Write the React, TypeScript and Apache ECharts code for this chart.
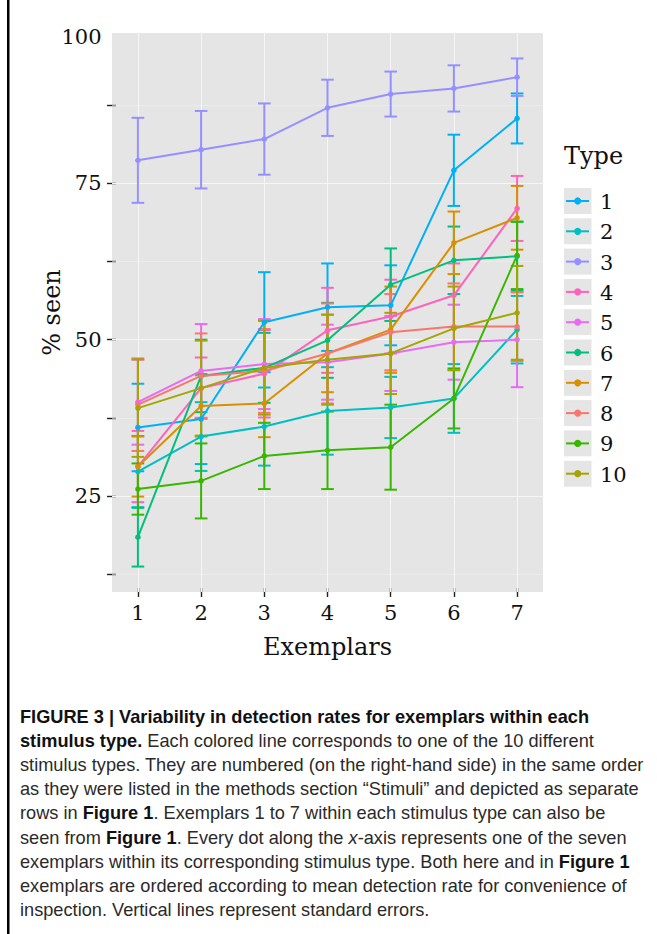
import React, { useEffect, useRef } from "react";
import * as echarts from "echarts";

// ---------- data ----------
const exemplars = [1, 2, 3, 4, 5, 6, 7];
const typeNames = ["1", "2", "3", "4", "5", "6", "7", "8", "9", "10"];
const typeColors = [
  "#00B0F6", "#00BFC4", "#9590FF", "#FF62BC", "#E76BF3",
  "#00BF7D", "#D89000", "#F8766D", "#39B600", "#A3A500",
];

const type1Mean = [35.95, 37.3, 52.8, 55.2, 55.5, 77.1, 85.4];
const type1SE = [7.0, 7.2, 8.0, 7.0, 6.4, 5.7, 4.0];
const type2Mean = [28.9, 34.5, 36.1, 38.6, 39.15, 40.6, 51.6];
const type2SE = [5.7, 5.5, 6.25, 7.0, 4.9, 5.5, 5.4];
const type3Mean = [78.7, 80.4, 82.1, 87.1, 89.3, 90.2, 92.0];
const type3SE = [6.8, 6.2, 5.7, 4.5, 3.6, 3.7, 3.0];
const type4Mean = [29.7, 42.25, 44.55, 51.5, 53.7, 57.1, 71.0];
const type4SE = [5.7, 4.9, 7.0, 6.8, 5.9, 5.1, 5.2];
const type5Mean = [40.0, 45.0, 46.1, 46.4, 47.8, 49.6, 50.0];
const type5SE = [6.8, 7.5, 7.2, 6.0, 6.0, 6.0, 7.6];
const type6Mean = [18.4, 44.2, 45.5, 49.9, 58.8, 62.7, 63.35];
const type6SE = [4.7, 5.8, 5.6, 6.0, 5.8, 5.4, 5.5];
const type7Mean = [29.7, 39.4, 39.8, 47.8, 51.6, 65.5, 69.5];
const type7SE = [4.8, 4.9, 5.4, 6.2, 6.9, 5.0, 5.1];
const type8Mean = [39.6, 44.2, 45.0, 47.8, 51.2, 52.1, 52.1];
const type8SE = [7.4, 6.8, 6.7, 8.0, 6.1, 6.9, 5.5];
const type9Mean = [26.1, 27.4, 31.4, 32.3, 32.8, 40.6, 63.5];
const type9SE = [4.1, 6.0, 5.3, 6.2, 6.8, 4.8, 5.4];
const type10Mean = [39.05, 42.25, 45.5, 46.8, 47.8, 51.8, 54.3];
const type10SE = [7.8, 7.6, 7.5, 7.2, 6.5, 6.7, 7.5];

const allMeans = [type1Mean, type2Mean, type3Mean, type4Mean, type5Mean, type6Mean, type7Mean, type8Mean, type9Mean, type10Mean];
const allSEs = [type1SE, type2SE, type3SE, type4SE, type5SE, type6SE, type7SE, type8SE, type9SE, type10SE];

const xTickValues = [1, 2, 3, 4, 5, 6, 7];
const yTickValues = [12.5, 25, 37.5, 50, 62.5, 75, 87.5];
const yLabelValues = [25, 50, 75];
const yTopLabel = "100";
const yMajorGrid = [25, 50, 75];
const yMinorGrid = [12.5, 37.5, 62.5, 87.5];

const xTitle = "Exemplars";
const yTitle = "% seen";
const legendTitle = "Type";

const captionLines = [
  "{b|FIGURE 3 | Variability in detection rates for exemplars within each}",
  "{b|stimulus type.}{r| Each colored line corresponds to one of the 10 different}",
  "{r|stimulus types. They are numbered (on the right-hand side) in the same order}",
  "{r|as they were listed in the methods section \u201cStimuli\u201d and depicted as separate}",
  "{r|rows in }{b|Figure 1}{r|. Exemplars 1 to 7 within each stimulus type can also be}",
  "{r|seen from }{b|Figure 1}{r|. Every dot along the }{i|x}{r|-axis represents one of the seven}",
  "{r|exemplars within its corresponding stimulus type. Both here and in }{b|Figure 1}",
  "{r|exemplars are ordered according to mean detection rate for convenience of}",
  "{r|inspection. Vertical lines represent standard errors.}",
];

// ---------- layout ----------
const W = 657;
const H = 934;
const GRID = { left: 112, top: 33, right: 543, bottom: 592 };
const X_MIN = 0.59, X_MAX = 7.41;
const Y_MIN = 9.63, Y_MAX = 99.07;
const SERIF = "DejaVu Serif";
const SANS = "Liberation Sans";
const CAP_FS = 18.2;

export default function App() {
  const ref = useRef<HTMLDivElement>(null);

  useEffect(() => {
    document.body.style.margin = "0";
    if (!ref.current) return;
    const chart = echarts.init(ref.current, null, { renderer: "svg" });

    const errorSeries = typeNames.map((name, t) => ({
      type: "custom",
      name: name + " se",
      silent: true,
      z: 3,
      data: exemplars.map((x, i) => [x, allMeans[t][i] - allSEs[t][i], allMeans[t][i] + allSEs[t][i]]),
      encode: { x: 0, y: [1, 2] },
      renderItem: (_p: any, api: any) => {
        const x = api.value(0);
        const lo = api.coord([x, api.value(1)]);
        const hi = api.coord([x, api.value(2)]);
        const half = api.coord([x + 0.1, api.value(1)])[0] - lo[0];
        const st = () => ({ stroke: typeColors[t], lineWidth: 2, fill: "none" });
        return {
          type: "group",
          children: [
            { type: "line", shape: { x1: lo[0], y1: hi[1], x2: lo[0], y2: lo[1] }, style: st() },
            { type: "line", shape: { x1: lo[0] - half, y1: hi[1], x2: lo[0] + half, y2: hi[1] }, style: st() },
            { type: "line", shape: { x1: lo[0] - half, y1: lo[1], x2: lo[0] + half, y2: lo[1] }, style: st() },
          ],
        };
      },
    }));

    const lineSeries = typeNames.map((name, t) => ({
      type: "line",
      name,
      z: 4,
      data: exemplars.map((x, i) => [x, allMeans[t][i]]),
      symbol: "circle",
      symbolSize: 5.5,
      showSymbol: true,
      lineStyle: { color: typeColors[t], width: 2 },
      itemStyle: { color: typeColors[t] },
      emphasis: { disabled: true },
    }));

    const gridSeries = {
      type: "line",
      name: "grid",
      data: [],
      z: 1,
      silent: true,
      markLine: {
        z: 1,
        silent: true,
        symbol: "none",
        label: { show: false },
        animation: false,
        data: [
          ...yMinorGrid.map((v) => ({ yAxis: v, lineStyle: { color: "#EEEEEE", width: 0.6, type: "solid" } })),
          ...yMajorGrid.map((v) => ({ yAxis: v, lineStyle: { color: "#F6F6F6", width: 1, type: "solid" } })),
          ...xTickValues.map((v) => ({ xAxis: v, lineStyle: { color: "#F6F6F6", width: 1, type: "solid" } })),
        ],
      },
    };

    const keyTop = 187.5;
    const keyPitch = 30.3;
    const legendGraphics: any[] = [
      {
        type: "text",
        x: 564,
        y: 156,
        style: { text: legendTitle, font: `24px '${SERIF}'`, fill: "#111", align: "left", verticalAlign: "middle" },
      },
    ];
    typeNames.forEach((name, t) => {
      const cy = keyTop + t * keyPitch + 13.5;
      legendGraphics.push(
        { type: "rect", shape: { x: 563.5, y: keyTop + t * keyPitch, width: 28.5, height: 27 }, style: { fill: "#E5E5E5", stroke: "#FFFFFF", lineWidth: 1 } },
        { type: "line", shape: { x1: 566, y1: cy, x2: 589, y2: cy }, style: { stroke: typeColors[t], lineWidth: 2 } },
        { type: "circle", shape: { cx: 577.7, cy, r: 3.6 }, style: { fill: typeColors[t] } },
        { type: "text", x: 600, y: cy + 1, style: { text: name, font: `21px '${SERIF}'`, fill: "#111", align: "left", verticalAlign: "middle" } }
      );
    });

    const captionGraphics = captionLines.map((line, i) => ({
      type: "text",
      x: 20,
      y: 717 + i * 24.1,
      style: {
        text: line,
        align: "left",
        verticalAlign: "middle",
        rich: {
          b: { fontFamily: SANS, fontSize: CAP_FS, fontWeight: "bold", fill: "#111" },
          r: { fontFamily: SANS, fontSize: CAP_FS, fill: "#2a2a2a" },
          i: { fontFamily: SANS, fontSize: CAP_FS, fontStyle: "italic", fill: "#2a2a2a" },
        },
      },
    }));

    const option: any = {
      animation: false,
      backgroundColor: "#FFFFFF",
      grid: {
        left: GRID.left,
        top: GRID.top,
        width: GRID.right - GRID.left,
        height: GRID.bottom - GRID.top,
        show: true,
        backgroundColor: "#E5E5E5",
        borderWidth: 0,
      },
      xAxis: {
        type: "value",
        min: X_MIN,
        max: X_MAX,
        offset: -4,
        axisLine: { show: false },
        axisTick: { show: true, length: 9, customValues: xTickValues, lineStyle: { color: "#222", width: 1.4 } },
        axisLabel: { show: true, customValues: xTickValues, margin: 14, fontFamily: SERIF, fontSize: 21, color: "#111" },
        splitLine: { show: false },
      },
      yAxis: {
        type: "value",
        min: Y_MIN,
        max: Y_MAX,
        offset: -4,
        axisLine: { show: false },
        axisTick: { show: true, length: 9, customValues: yTickValues, lineStyle: { color: "#222", width: 1.4 } },
        axisLabel: { show: true, customValues: yLabelValues, margin: 14.5, fontFamily: SERIF, fontSize: 21, color: "#111" },
        splitLine: { show: false },
      },
      graphic: [
        { type: "rect", shape: { x: 7, y: 0, width: 2.5, height: H }, style: { fill: "#000" } },
        { type: "text", x: 101.5, y: 37, style: { text: yTopLabel, font: `21px '${SERIF}'`, fill: "#111", align: "right", verticalAlign: "middle" } },
        { type: "text", x: (GRID.left + GRID.right) / 2, y: 647, style: { text: xTitle, font: `24px '${SERIF}'`, fill: "#111", align: "center", verticalAlign: "middle" } },
        { type: "text", x: 52, y: (GRID.top + GRID.bottom) / 2, rotation: Math.PI / 2, style: { text: yTitle, font: `24px '${SERIF}'`, fill: "#111", align: "center", verticalAlign: "middle" } },
        ...legendGraphics,
        ...captionGraphics,
      ],
      series: [gridSeries, ...errorSeries, ...lineSeries],
    };

    chart.setOption(option);
    return () => chart.dispose();
  }, []);

  return <div ref={ref} style={{ width: W, height: H }} />;
}
